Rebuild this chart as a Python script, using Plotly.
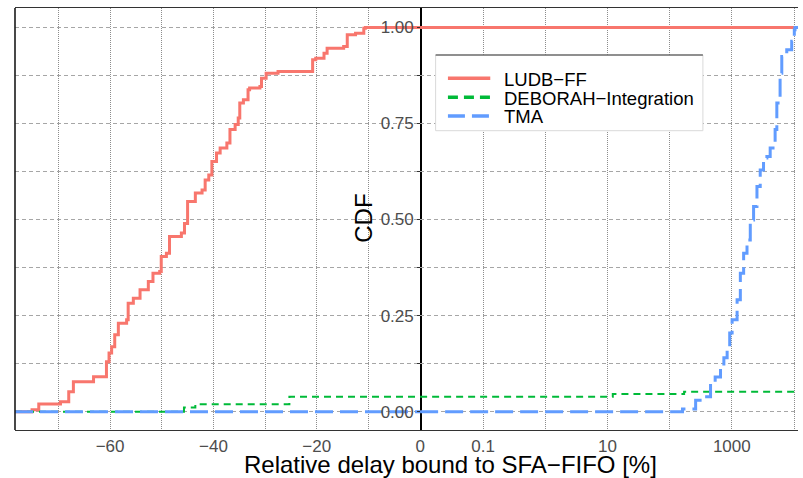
import plotly.graph_objects as go

# ---------------- data ----------------
# LUDB-FF: ECDF steps (x = relative delay bound [%], y = CDF), all negative
ludb_x = [-75.1, -73.8, -69.6, -68.0, -67.1, -63.2, -60.7, -60.2, -59.7, -59.1, -58.4,
          -56.8, -56.5, -55.5, -54.2, -52.6, -51.7, -50.4, -50.1, -49.1, -48.5, -46.2,
          -45.6, -45.0, -43.5, -42.2, -41.6, -40.9, -40.3, -39.4, -38.7, -37.4, -36.8,
          -35.8, -35.2, -34.9, -34.2, -33.3, -33.0, -31.0, -30.7, -29.8, -27.5, -20.8,
          -20.2, -18.6, -18.0, -14.8, -14.1, -12.5, -10.9, -10.6]
ludb_y = [0.005, 0.020, 0.026, 0.052, 0.078, 0.091, 0.130, 0.153, 0.169, 0.200, 0.230,
          0.239, 0.282, 0.295, 0.317, 0.339, 0.360, 0.365, 0.404, 0.4125, 0.456, 0.465,
          0.490, 0.547, 0.569, 0.577, 0.603, 0.616, 0.651, 0.673, 0.686, 0.699, 0.734,
          0.747, 0.764, 0.803, 0.812, 0.838, 0.842, 0.846, 0.868, 0.881, 0.885, 0.916,
          0.920, 0.933, 0.946, 0.950, 0.981, 0.985, 0.998, 1.000]

# DEBORAH-Integration
deb_neg_x = [-45.7, -43.5, -25.3]
deb_neg_y = [0.011, 0.019, 0.039]
deb_pos_x = [12.2, 171]
deb_pos_y = [0.046, 0.052]

# TMA (all positive)
tma_x = [161, 262, 356, 455, 540, 658, 745, 841, 925, 1011, 1216, 1371, 1549, 1755, 1981,
         2238, 2537, 2862, 3234, 3661, 4138, 4969, 5292, 5973, 6357, 7640, 9183, 10110, 10380]
tma_y = [0.007, 0.030, 0.039, 0.074, 0.090, 0.117, 0.140, 0.169, 0.205, 0.239, 0.291, 0.360,
         0.4125, 0.447, 0.499, 0.534, 0.586, 0.629, 0.660, 0.664, 0.686, 0.734, 0.803,
         0.881, 0.924, 0.942, 0.964, 0.994, 1.000]

# ticks
neg_ticks = [-70, -60, -50, -40, -30, -20, -10, 0]
neg_labels = ["", "−60", "", "−40", "", "−20", "", "0"]
pos_ticks = [0.1, 1, 10, 100, 1000, 10000]
pos_labels = ["0.1", "", "10", "", "1000", ""]
y_ticks = [0, 0.125, 0.25, 0.375, 0.5, 0.625, 0.75, 0.875, 1.0]
y_labels = ["0.00", "", "0.25", "", "0.50", "", "0.75", "", "1.00"]

names = ["LUDB−FF", "DEBORAH−Integration", "TMA"]
colors = ["#F8766D", "#00BA38", "#619CFF"]

# ---------------- scales / layout geometry ----------------
XMIN, XMAX = -78.4, 0.0          # linear part
LMIN, LMAX = -2.011, 4.064       # log part (log10)
PMIN, PMAX = 10 ** LMIN, 10 ** LMAX
SPLIT = 0.5174

W, H = 803, 478
ML, MT, MB = 15, 8, 48
PLOT_L, PLOT_T = ML, MT
PLOT_W, PLOT_H = W - ML, H - MT - MB


def px(xp):
    return (xp - PLOT_L) / PLOT_W


def py(yp):
    return (PLOT_T + PLOT_H - yp) / PLOT_H


FONT = "Liberation Sans, Arial, Helvetica, sans-serif"

red_line = dict(color=colors[0], width=3)
green_line = dict(color=colors[1], width=2, dash="7px,5px")
blue_line = dict(color=colors[2], width=3, dash="18px,7px")

fig = go.Figure()

# LUDB-FF
fig.add_trace(go.Scatter(x=[XMIN] + ludb_x + [XMAX], y=[0] + ludb_y + [ludb_y[-1]],
                         mode="lines", line=red_line, line_shape="hv", name=names[0],
                         xaxis="x", yaxis="y", showlegend=False))
fig.add_trace(go.Scatter(x=[PMIN, PMAX], y=[ludb_y[-1], ludb_y[-1]],
                         mode="lines", line=red_line, line_shape="hv", name=names[0],
                         xaxis="x2", yaxis="y", showlegend=False))
# DEBORAH
fig.add_trace(go.Scatter(x=[XMIN] + deb_neg_x + [XMAX], y=[0] + deb_neg_y + [deb_neg_y[-1]],
                         mode="lines", line=green_line, line_shape="hv", name=names[1],
                         xaxis="x", yaxis="y", showlegend=False))
fig.add_trace(go.Scatter(x=[PMIN] + deb_pos_x + [PMAX],
                         y=[deb_neg_y[-1]] + deb_pos_y + [deb_pos_y[-1]],
                         mode="lines", line=green_line, line_shape="hv", name=names[1],
                         xaxis="x2", yaxis="y", showlegend=False))
# TMA
fig.add_trace(go.Scatter(x=[XMIN, XMAX], y=[0, 0],
                         mode="lines", line=blue_line, line_shape="hv", name=names[2],
                         xaxis="x", yaxis="y", showlegend=False))
fig.add_trace(go.Scatter(x=[PMIN] + tma_x + [PMAX], y=[0] + tma_y + [tma_y[-1]],
                         mode="lines", line=blue_line, line_shape="hv", name=names[2],
                         xaxis="x2", yaxis="y", showlegend=False))

grid_v = dict(showgrid=True, gridcolor="#8c8c8c", gridwidth=1, griddash="1px,1px")
axis_common = dict(showline=True, linecolor="#333333", linewidth=1.2, mirror=True,
                   zeroline=False, ticks="",
                   tickfont=dict(family=FONT, size=17, color="#4d4d4d"), **grid_v)

# ---------------- manual legend ----------------
leg_l, leg_r, leg_t, leg_b = 438.3, 707.3, 55.0, 130.7
key_x0, key_x1, text_x = 450.7, 493.3, 506.0
key_y = [78.3, 97.3, 116.0]
key_lines = [dict(color=colors[0], width=3.5),
             dict(color=colors[1], width=3.5, dash="10px,6px"),
             dict(color=colors[2], width=3.5, dash="17px,7px")]

shapes = [
    dict(type="rect", xref="paper", yref="paper", x0=px(leg_l), x1=px(leg_r),
         y0=py(leg_b), y1=py(leg_t), fillcolor="white",
         line=dict(color="#d9d9d9", width=1), layer="above"),
    dict(type="line", xref="paper", yref="paper", x0=px(leg_l), x1=px(leg_r),
         y0=py(leg_t), y1=py(leg_t), line=dict(color="#333333", width=1), layer="above"),
    dict(type="line", xref="paper", yref="paper", x0=0, x1=0, y0=0, y1=1,
         line=dict(color="#1a1a1a", width=1.6), layer="above"),
]
annotations = []
for nm, ln, ky in zip(names, key_lines, key_y):
    shapes.append(dict(type="line", xref="paper", yref="paper", x0=px(key_x0), x1=px(key_x1),
                       y0=py(ky), y1=py(ky), line=ln, layer="above"))
    annotations.append(dict(text=nm, xref="paper", yref="paper", x=px(text_x), y=py(ky + 0.8),
                            xanchor="left", yanchor="middle", showarrow=False, borderpad=0,
                            font=dict(family=FONT, size=18.5, color="black")))

annotations += [
    dict(text="Relative delay bound to SFA−FIFO [%]", xref="paper", yref="paper",
         x=px(453), y=py(464.6), xanchor="center", yanchor="middle", borderpad=0,
         showarrow=False, font=dict(family=FONT, size=24, color="black")),
    dict(text="CDF", xref="paper", yref="paper", textangle=-90,
         x=px(365), y=py(218), xanchor="center", yanchor="middle",
         showarrow=False, font=dict(family=FONT, size=24, color="black")),
]

fig.update_layout(
    width=W, height=H,
    margin=dict(l=ML, r=0, t=MT, b=MB, pad=0),
    paper_bgcolor="white", plot_bgcolor="white",
    font=dict(family=FONT, color="black"),
    showlegend=False,
    hovermode=False,
    xaxis=dict(domain=[0, SPLIT], range=[XMIN, XMAX], tickmode="array",
               tickvals=neg_ticks, ticktext=neg_labels, anchor="y", **axis_common),
    xaxis2=dict(domain=[SPLIT, 1], type="log", range=[LMIN, LMAX], tickmode="array",
                tickvals=pos_ticks, ticktext=pos_labels, anchor="y", **axis_common),
    yaxis=dict(domain=[0, 1], range=[-0.0477, 1.0505], anchor="free", position=SPLIT,
               tickmode="array", tickvals=y_ticks, ticktext=y_labels,
               showgrid=True, gridcolor="#a6a6a6", gridwidth=1, griddash="4px,3px",
               showline=True, linecolor="black", linewidth=1.6, zeroline=False,
               ticks="outside", ticklen=3, tickcolor="#333333",
               tickfont=dict(family=FONT, size=17, color="#4d4d4d")),
    shapes=shapes,
    annotations=annotations,
)

# remove the browser's default 8px page margin so the figure sits at (0, 0)
page_fix = ("document.body.style.margin='0';"
            "document.body.style.overflow='hidden';"
            "document.documentElement.style.overflow='hidden';")

fig.write_html("out.html", post_script=page_fix,
               config={"displayModeBar": False, "staticPlot": True})
